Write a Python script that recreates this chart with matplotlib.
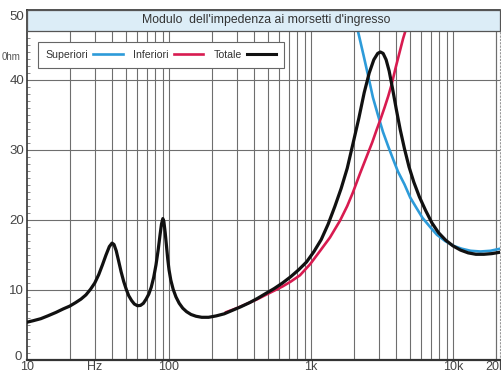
import matplotlib
matplotlib.use("Agg")
import matplotlib.pyplot as plt
from matplotlib.lines import Line2D
from matplotlib.patches import Rectangle
from matplotlib.ticker import FixedLocator, MultipleLocator, NullFormatter
import matplotlib.transforms as mtransforms

plt.rcParams['font.family'] = ['Liberation Sans', 'DejaVu Sans']

# Impedance magnitude at the input terminals (ohm) vs frequency (Hz)
freq_tot = [10, 11, 12.5, 14, 16, 18, 20, 22, 24, 26, 28, 30, 32, 34, 36, 38, 39.7,
            41, 42.5, 44, 46, 48, 50, 52, 54.5, 57, 60, 63, 66, 69, 72, 75, 78, 81,
            84, 86.5, 88.5, 90.5, 92, 94, 96, 98, 100, 103, 107, 112, 118, 125, 133,
            143, 155, 170, 190, 215, 245, 280, 320, 370, 420, 480, 550, 630, 720,
            820, 930, 1050, 1180, 1320, 1470, 1630, 1800, 1980, 2170, 2370, 2570,
            2770, 2950, 3080, 3220, 3380, 3550, 3750, 3980, 4250, 4550, 4900, 5300,
            5800, 6400, 7100, 7900, 8900, 10000, 11300, 12800, 14500, 16500, 18800,
            21500]
z_tot = [5.4, 5.6, 5.9, 6.3, 6.8, 7.3, 7.7, 8.2, 8.7, 9.3, 10.1, 11.0, 12.2, 13.6, 15.0, 16.2, 16.7,
         16.5, 15.6, 14.3, 12.6, 11.2, 10.1, 9.2, 8.5, 8.0, 7.75, 7.8, 8.1, 8.7, 9.4, 10.4, 11.8, 13.6,
         15.8, 17.9, 19.4, 20.2, 19.8, 18.2, 16.3, 14.4, 12.9, 11.4, 10.1, 9.0, 8.1, 7.4, 6.9,
         6.5, 6.25, 6.1, 6.1, 6.3, 6.6, 7.1, 7.6, 8.2, 8.8, 9.5, 10.2, 11.0, 11.9,
         12.9, 14.0, 15.5, 17.2, 19.4, 21.9, 24.5, 27.4, 31.0, 34.5, 38.2, 41.0,
         42.9, 43.8, 44.0, 43.8, 42.9, 41.3, 38.8, 35.9, 32.9, 30.2, 27.6, 25.4,
         23.3, 21.4, 19.6, 18.2, 17.1, 16.3, 15.7, 15.3, 15.1, 15.1, 15.2,
         15.4]

freq_sup = [2000, 2140, 2340, 2540, 2730, 2970, 3210, 3500, 3800, 4100, 4550, 5000,
            5500, 6100, 6900, 7700, 8800, 10100, 11500, 13300, 15600, 18300, 21500]
z_sup = [49.5, 47.0, 43.6, 40.4, 37.5, 34.9, 32.6, 30.5, 28.6, 26.9, 25.1, 23.2,
         21.8, 20.3, 19.0, 17.9, 17.0, 16.3, 15.9, 15.6, 15.5, 15.6, 15.9]

freq_inf = [250, 300, 360, 420, 480, 550, 630, 720, 836, 987, 1160, 1360, 1600, 1800,
            1970, 2210, 2470, 2700, 2900, 3100, 3300, 3500, 3700, 3950, 4210, 4450,
            4720, 5100]
z_inf = [6.8, 7.4, 8.1, 8.7, 9.3, 9.9, 10.5, 11.2, 12.1, 13.7, 15.6, 17.5, 19.9, 22.0,
         23.9, 26.6, 29.1, 31.1, 32.9, 34.5, 36.1, 37.7, 39.4, 41.8, 44.0, 45.9,
         47.6, 50.0]

legend_labels = ["Superiori", "Inferiori", "Totale"]
series_colors = ["#2d9bd9", "#d81b50", "#111111"]

x_ticks = [10, 30, 100, 1000, 10000, 20000]
x_tick_labels = ["10", "Hz", "100", "1k", "10k", "20k"]
y_ticks = [0, 10, 20, 30, 40, 50]

title_text = "Modulo  dell'impedenza ai morsetti d'ingresso"

W, H = 501, 373
fig = plt.figure(figsize=(W / 100, H / 100), dpi=100)
ax = fig.add_axes([27 / W, 1 - 360 / H, (500 - 27) / W, (360 - 10) / H])

ax.set_xscale('log')
ax.set_xlim(10, 10 ** (1 + (500 - 27) / 142))
ax.set_ylim(0, 50)

# grid
grid_col = "#6e6e6e"
vlines = [m * 10 ** e for e in range(1, 5) for m in range(1, 10)] + [20000]
for v in vlines:
    if 10 < v <= 20000:
        ax.axvline(v, color=grid_col, lw=0.8, zorder=1)
for h in [10, 20, 30, 40]:
    ax.axhline(h, color=grid_col, lw=0.8, zorder=1)

ax.plot(freq_sup, z_sup, color=series_colors[0], lw=1.9, zorder=3, solid_capstyle='round',
        solid_joinstyle='round')
ax.plot(freq_inf, z_inf, color=series_colors[1], lw=1.9, zorder=3, solid_capstyle='round',
        solid_joinstyle='round')
ax.plot(freq_tot, z_tot, color=series_colors[2], lw=2.3, zorder=4, solid_capstyle='round',
        solid_joinstyle='round')

# title band across the top of the plot
blend = mtransforms.blended_transform_factory(ax.transAxes, ax.transData)
ax.add_patch(Rectangle((0, 47.05), 1, 2.95, transform=blend, facecolor="#dcedf7",
                       edgecolor="#555555", lw=0.9, zorder=6, clip_on=False))
ax.text(0.505, 48.5, title_text, transform=blend, ha='center', va='center',
        fontsize=8.8, color="#333333", zorder=7)

# ticks
ax.xaxis.set_major_locator(FixedLocator(x_ticks))
ax.set_xticklabels(x_tick_labels)
ax.xaxis.set_minor_formatter(NullFormatter())
ax.tick_params(axis='x', which='both', length=0, labelsize=9, colors="#444444", pad=1)
ax.set_yticks(y_ticks)
ax.yaxis.set_minor_locator(MultipleLocator(1))
ax.tick_params(axis='y', which='major', length=0, labelsize=9.5, colors="#444444", pad=2)
ax.tick_params(axis='y', which='minor', length=2, direction='in', color="#777777", width=0.6)
ylabels = ax.get_yticklabels()
ylabels[0].set_transform(ylabels[0].get_transform() +
                         mtransforms.ScaledTranslation(-2 / 100, 5 / 100, fig.dpi_scale_trans))
ylabels[-1].set_transform(ylabels[-1].get_transform() +
                          mtransforms.ScaledTranslation(0, -5 / 100, fig.dpi_scale_trans))

for s in ['left', 'bottom', 'top']:
    ax.spines[s].set_color("#333333")
    ax.spines[s].set_linewidth(1.2)
ax.spines['bottom'].set_linewidth(1.6)
ax.spines['right'].set_color("#9a9a9a")
ax.spines['right'].set_linestyle((0, (1, 2)))
ax.spines['right'].set_linewidth(0.8)

fig.text(2 / W, 1 - 57 / H, "0hm", fontsize=7, color="#555555", va='center', ha='left')

handles = [Line2D([], [], color=c, lw=2.2 if i == 2 else 1.9) for i, c in enumerate(series_colors)]
leg = ax.legend(handles, legend_labels, ncol=3, markerfirst=False, loc='upper left',
                bbox_to_anchor=((38 - 27) / 473, (360 - 42) / 350), fontsize=7.6,
                handlelength=2.8, handletextpad=0.45, columnspacing=1.0, borderpad=0.75,
                borderaxespad=0, fancybox=False, framealpha=1, edgecolor="#666666")
leg.get_frame().set_linewidth(0.8)
leg.set_zorder(8)
for t in leg.get_texts():
    t.set_color("#333333")

fig.savefig("out.png", dpi=100)
